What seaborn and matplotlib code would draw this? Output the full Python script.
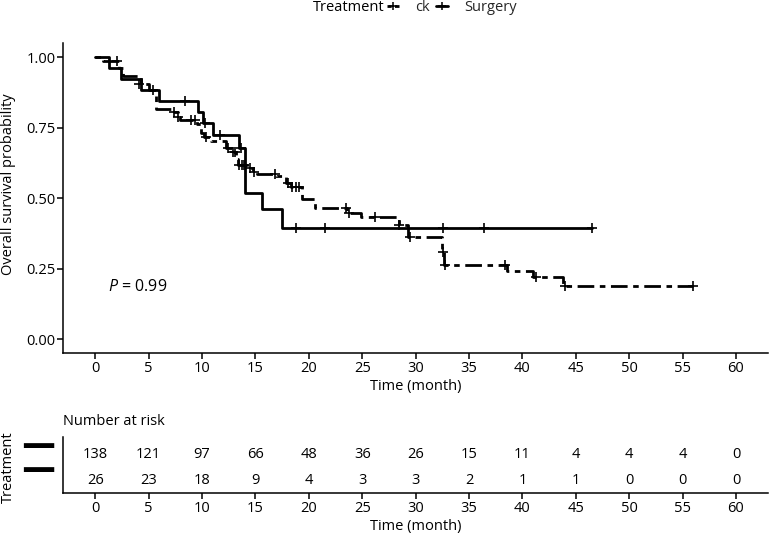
import numpy as np
import pandas as pd
import matplotlib
matplotlib.use("Agg")
import matplotlib.pyplot as plt
import matplotlib.transforms as mtransforms
import seaborn as sns
from matplotlib.lines import Line2D

# ---------------- data ----------------
groups = ["ck", "Surgery"]

ck_time = [0, 0.7, 2.2, 2.6, 4.3, 5.0, 5.7, 7.2, 7.7, 7.9, 9.5, 9.9, 10.2, 10.8,
           12.2, 12.8, 13.2, 13.4, 14.2, 14.8, 15.1, 16.9, 17.9, 18.3, 19.4,
           20.6, 23.6, 24.9, 28.4, 29.3, 32.5, 32.7, 38.6, 41.0, 43.8, 56.0]
ck_surv = [1.0, 0.986, 0.964, 0.935, 0.906, 0.884, 0.818, 0.805, 0.788, 0.777,
           0.762, 0.733, 0.717, 0.703, 0.68, 0.665, 0.64, 0.617, 0.606, 0.594,
           0.587, 0.578, 0.553, 0.54, 0.499, 0.467, 0.448, 0.434, 0.404, 0.361,
           0.31, 0.263, 0.243, 0.219, 0.189, 0.189]
ck_cens_time = [2.0, 4.1, 5.4, 7.4, 7.75, 9.0, 9.3, 10.4, 12.4, 12.9, 13.1, 13.5,
                13.7, 13.9, 14.5, 14.9, 16.8, 18.05, 18.4, 18.8, 19.1, 23.5,
                23.8, 26.2, 28.4, 29.5, 32.6, 32.75, 38.4, 41.3, 44.0, 56.0]
ck_cens_surv = [0.986, 0.906, 0.884, 0.805, 0.788, 0.777, 0.777, 0.717, 0.68,
                0.665, 0.665, 0.617, 0.617, 0.617, 0.606, 0.594, 0.587, 0.553,
                0.54, 0.54, 0.54, 0.467, 0.448, 0.434, 0.404, 0.361, 0.31,
                0.263, 0.263, 0.219, 0.189, 0.189]

surg_time = [0, 1.25, 2.4, 4.3, 6.0, 9.6, 10.1, 11.0, 13.5, 14.0, 15.6, 17.5, 46.5]
surg_surv = [1.0, 0.962, 0.923, 0.885, 0.846, 0.806, 0.766, 0.725, 0.68, 0.519,
             0.461, 0.394, 0.394]
surg_cens_time = [8.4, 10.3, 11.65, 13.6, 18.8, 21.5, 32.6, 36.4, 46.5]
surg_cens_surv = [0.846, 0.766, 0.725, 0.68, 0.394, 0.394, 0.394, 0.394, 0.394]

risk_times = [0, 5, 10, 15, 20, 25, 30, 35, 40, 45, 50, 55, 60]
ck_risk = [138, 121, 97, 66, 48, 36, 26, 15, 11, 4, 4, 4, 0]
surg_risk = [26, 23, 18, 9, 4, 3, 3, 2, 1, 1, 0, 0, 0]

y_ticks = [0.0, 0.25, 0.5, 0.75, 1.0]
y_tick_labels = ["0.00", "0.25", "0.50", "0.75", "1.00"]
x_ticks = list(range(0, 61, 5))
p_text = "$P$ = 0.99"

# ---------------- styling ----------------
sns.set_theme(style="ticks")
plt.rcParams["font.family"] = ["Open Sans", "DejaVu Sans"]
plt.rcParams["mathtext.fontset"] = "custom"
plt.rcParams["mathtext.it"] = "Open Sans:italic"
plt.rcParams["mathtext.rm"] = "Open Sans"

W, H = 769, 535
fig = plt.figure(figsize=(W / 100, H / 100), dpi=100)


def rect(l, t, r, b):
    return [l / W, 1 - b / H, (r - l) / W, (b - t) / H]


ax = fig.add_axes(rect(63.3, 43.3, 768, 353.3))
rt = fig.add_axes(rect(63.3, 436.7, 768, 493.3))

pal = {"ck": "black", "Surgery": "black"}
dash_map = {"ck": (2, 2, 6, 2), "Surgery": ""}

curves = pd.concat([
    pd.DataFrame({"time": ck_time, "surv": ck_surv, "Treatment": "ck"}),
    pd.DataFrame({"time": surg_time, "surv": surg_surv, "Treatment": "Surgery"}),
], ignore_index=True)
cens = pd.concat([
    pd.DataFrame({"time": ck_cens_time, "surv": ck_cens_surv, "Treatment": "ck"}),
    pd.DataFrame({"time": surg_cens_time, "surv": surg_cens_surv, "Treatment": "Surgery"}),
], ignore_index=True)

sns.lineplot(data=curves, x="time", y="surv", hue="Treatment", style="Treatment",
             palette=pal, dashes=dash_map, estimator=None, sort=True,
             drawstyle="steps-post", linewidth=2.0, legend=False, ax=ax)
sns.scatterplot(data=cens, x="time", y="surv", hue="Treatment", palette=pal,
                marker="+", s=52, linewidth=1.2, legend=False, ax=ax)

TXT = 10.5
for a in (ax, rt):
    a.set_xlim(-3, 63)
    a.set_xticks(x_ticks)
    a.set_xticklabels([str(t) for t in x_ticks])
    for s in ("top", "right"):
        a.spines[s].set_visible(False)
    for s in ("left", "bottom"):
        a.spines[s].set_color("black")
        a.spines[s].set_linewidth(1.1)
    a.tick_params(axis="both", length=4, width=1.1, color="black",
                  labelsize=TXT, labelcolor="black", pad=1.5)
    a.set_xlabel("Time (month)", fontsize=TXT, color="black")
    a.xaxis.label.set_va("center")

ax.set_ylim(-0.05, 1.05)
ax.set_yticks(y_ticks)
ax.set_yticklabels(y_tick_labels)
ax.set_ylabel("Overall survival probability", fontsize=TXT, color="black")
ax.xaxis.set_label_coords(0.5, (353.3 - 386.7) / 310)
ax.yaxis.set_label_coords((8.5 - 63.3) / 704.7, (353.3 - 184) / 310)
ax.yaxis.label.set_va("center")
ax.text(1.2, 0.185, p_text, fontsize=11.5, ha="left", va="center", color="black")

# risk table
rt.set_ylim(0.4, 2.6)
rt.set_yticks([])
row_tr = mtransforms.offset_copy(rt.transData, fig=fig, x=0, y=-2.5, units="dots")
for t, n1, n2 in zip(risk_times, ck_risk, surg_risk):
    rt.text(t, 2, str(n1), ha="center", va="center", fontsize=TXT, color="black",
            transform=row_tr)
    rt.text(t, 1, str(n2), ha="center", va="center", fontsize=TXT, color="black",
            transform=row_tr)
rt.xaxis.set_label_coords(0.5, (493.3 - 526.7) / 56.6)
rt.set_ylabel("Treatment", fontsize=TXT, color="black")
rt.yaxis.set_label_coords((8.0 - 63.3) / 704.7, (493.3 - 467) / 56.6)
rt.yaxis.label.set_va("center")
rt.text(0, (493.3 - 421.7) / 56.6, "Number at risk", transform=rt.transAxes,
        ha="left", va="center", fontsize=TXT, color="black")
# large dashes used as y labels of the risk table (one per group)
fig.text(38 / W, 1 - 458.7 / H, "\n".join("\u2013" for g in groups), fontsize=52,
         ha="center", va="center", linespacing=0.128, color="black")

# legend
fig.text(312.7 / W, 1 - 7.5 / H, "Treatment", ha="left", va="center",
         fontsize=TXT, color="black")
handles = [Line2D([], [], color="black", lw=2.0, dashes=(1.5, 1.2, 3, 1.2), marker="+",
                  markersize=6, markeredgewidth=1.1),
           Line2D([], [], color="black", lw=2.0, marker="+", markersize=6,
                  markeredgewidth=1.1)]
fig.legend(handles, groups, ncol=2, loc="center left",
           bbox_to_anchor=(387 / W, 1 - 7.5 / H), frameon=False, fontsize=TXT,
           handlelength=0.85, handletextpad=1.1, columnspacing=0.4,
           borderpad=0, borderaxespad=0)

fig.savefig("out.png", dpi=100)
